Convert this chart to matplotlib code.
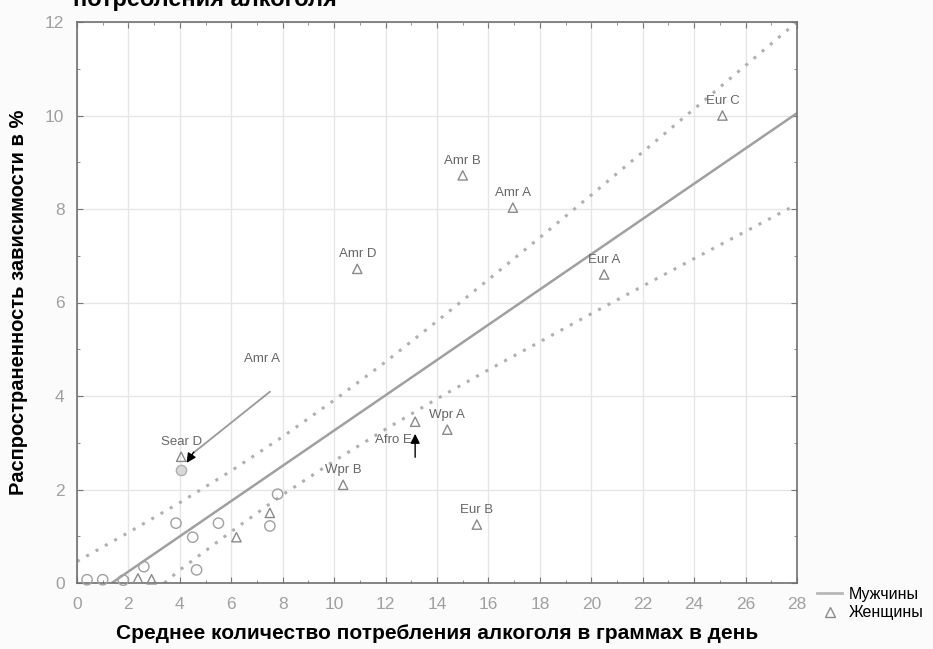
import matplotlib
matplotlib.use("Agg")
import matplotlib.pyplot as plt
from matplotlib.lines import Line2D

# ---- data ----
women_labels = ["Eur C", "Amr B", "Amr A", "Eur A", "Amr D", "Wpr A", "Wpr B", "Eur B", "Sear D"]
women_x = [25.1, 15.0, 16.95, 20.5, 10.9, 14.4, 10.35, 15.55, 4.05]
women_y = [10.0, 8.72, 8.03, 6.6, 6.72, 3.28, 2.1, 1.25, 2.7]

women_extra_x = [13.15, 7.5, 6.2, 2.37, 2.9]
women_extra_y = [3.45, 1.5, 0.98, 0.1, 0.08]

men_x = [7.8, 7.5, 5.5, 3.85, 4.5, 4.65, 2.6, 0.39, 1.0, 1.8]
men_y = [1.9, 1.22, 1.28, 1.28, 0.98, 0.28, 0.35, 0.07, 0.07, 0.06]
men_special_x = [4.05]
men_special_y = [2.42]

fit_x = [1.35, 28.0]
fit_y = [0.0, 10.05]

band_x = [0, 2, 4, 6, 8, 10, 12, 14, 16, 18, 20, 22, 24, 26, 28]
upper_y = [0.46, 1.08, 1.72, 2.40, 3.13, 3.91, 4.73, 5.60, 6.49, 7.39, 8.30, 9.22, 10.14, 11.07, 12.0]
lower_x = [3.4, 4, 6, 8, 10, 12, 14, 16, 18, 20, 22, 24, 26, 28]
lower_y = [0.0, 0.28, 1.10, 1.89, 2.61, 3.29, 3.94, 4.56, 5.16, 5.76, 6.35, 6.94, 7.52, 8.10]

x_ticks = list(range(0, 29, 2))
y_ticks = list(range(0, 13, 2))

title_text = "потребления алкоголя"
xlabel_text = "Среднее количество потребления алкоголя в граммах в день"
ylabel_text = "Распространенность зависимости в %"
legend_labels = ["Мужчины", "Женщины"]

# ---- drawing ----
plt.rcParams['font.family'] = ['Liberation Sans', 'DejaVu Sans']

fig = plt.figure(figsize=(9.33, 6.49), dpi=100, facecolor='#fbfbfb')
ax = fig.add_axes([77/933, 1-583/649, 720/933, 561/649])
ax.set_facecolor('white')

grey = '#8a8a8a'
ax.set_xlim(0, 28)
ax.set_ylim(0, 12)
ax.set_xticks(x_ticks)
ax.set_yticks(y_ticks)
ax.set_xticks(range(0, 29), minor=True)
ax.set_yticks(range(0, 13), minor=True)
ax.grid(True, which='major', color='#e6e6e6', lw=1.0)
ax.set_axisbelow(True)
ax.tick_params(which='both', direction='in', top=True, right=True, colors='#777777',
               labelcolor='#a0a0a0', labelsize=12.5)
ax.tick_params(which='major', length=4)
ax.tick_params(which='minor', length=2.5)
ax.tick_params(axis='x', which='major', pad=10)
ax.tick_params(axis='y', which='major', pad=9)
for sp in ax.spines.values():
    sp.set_color('#707070')
    sp.set_linewidth(1.2)

# regression line and confidence bands
ax.plot(fit_x, fit_y, color='#a0a0a0', lw=1.8, solid_capstyle='butt')
ax.plot(band_x, upper_y, color='#b0b0b0', lw=2.2, linestyle=(0, (1, 2.5)))
ax.plot(lower_x, lower_y, color='#b0b0b0', lw=2.2, linestyle=(0, (1, 2.5)))

# points
ax.scatter(women_x, women_y, marker='^', s=45, facecolors='none', edgecolors=grey, lw=1.0, zorder=3)
ax.scatter(women_extra_x, women_extra_y, marker='^', s=45, facecolors='none', edgecolors=grey, lw=1.0, zorder=3, clip_on=False)
ax.scatter(men_x, men_y, marker='o', s=55, facecolors='none', edgecolors='#a0a0a0', lw=1.0, zorder=3, clip_on=False)
ax.scatter(men_special_x, men_special_y, marker='o', s=55, facecolors='#d8d8d8', edgecolors='#b0b0b0', lw=1.0, zorder=3)

for lab, x, y in zip(women_labels, women_x, women_y):
    ax.annotate(lab, (x, y), xytext=(0, 10.5), textcoords='offset points',
                ha='center', va='center', fontsize=9.5, color='#666666')

# Amr A arrow (men)
ax.annotate("Amr A", (7.2, 4.8), ha='center', va='center', fontsize=9.5, color='#666666')
ax.annotate("", xy=(4.45, 2.75), xytext=(7.59, 4.13),
            arrowprops=dict(arrowstyle='-', color='#999999', lw=1.3))
ax.annotate("", xy=(4.2, 2.52), xytext=(4.6, 2.85),
            arrowprops=dict(arrowstyle='-|>', color='black', lw=1.0, mutation_scale=14))

# Afro E arrow
ax.annotate("Afro E", (12.3, 3.06), ha='center', va='center', fontsize=9.5, color='#666666')
ax.annotate("", xy=(13.15, 3.25), xytext=(13.15, 2.63),
            arrowprops=dict(arrowstyle='-|>', color='black', lw=1.0, mutation_scale=14))

# title (cut off at the top, as in the reference)
fig.text(73/933, 1-6/649, title_text, fontsize=17, fontweight='bold', ha='left', va='baseline')

ax.set_xlabel(xlabel_text, fontsize=15, fontweight='bold', labelpad=9)
ax.set_ylabel(ylabel_text, fontsize=14.5, fontweight='bold', labelpad=12)

handles = [Line2D([], [], color='#b8b8b8', lw=2),
           Line2D([], [], marker='^', linestyle='none', markerfacecolor='none',
                  markeredgecolor=grey, markersize=7)]
fig.legend(handles, legend_labels, loc='center left', bbox_to_anchor=(0.872, 0.070),
           frameon=False, fontsize=11.5, handlelength=1.6, labelspacing=0.2,
           handletextpad=0.4, borderaxespad=0.0, borderpad=0.2)

fig.savefig('out.png', dpi=100, facecolor=fig.get_facecolor())
